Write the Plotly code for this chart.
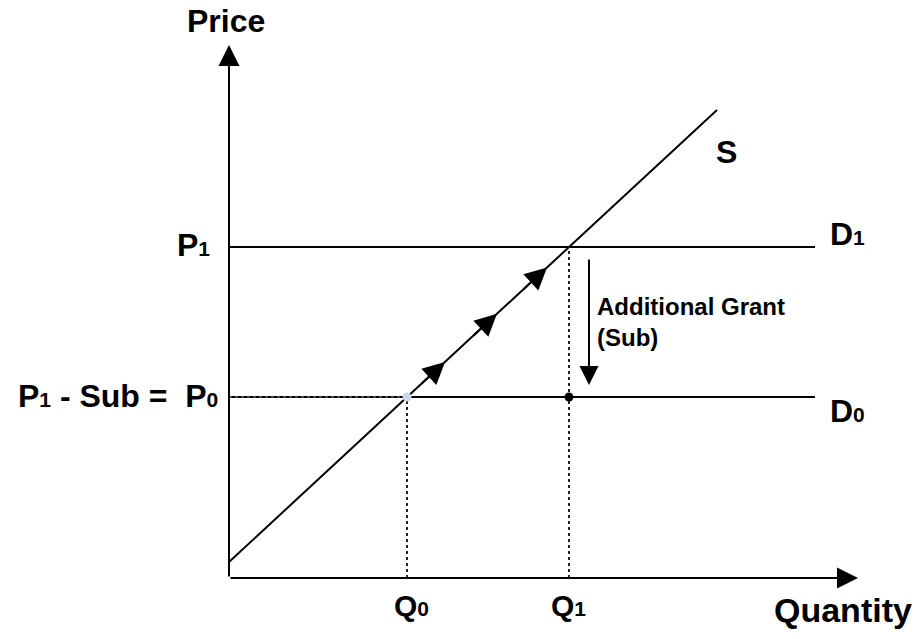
import plotly.graph_objects as go

# ---- data (chart units) ----
supply_q = [0, 488]
supply_p = [16, 468]
P0 = 181
P1 = 331
Q0 = 178
Q1 = 340
D_END = 586
X_MAX = 629
Y_MAX = 533
GRANT_X = 360
flow_q = [216, 268, 318]  # arrow tips along supply

FONT = "Arial, Liberation Sans, sans-serif"


def s_price(q):
    return supply_p[0] + (supply_p[1] - supply_p[0]) / (supply_q[1] - supply_q[0]) * (q - supply_q[0])


fig = go.Figure()

# Supply
fig.add_trace(go.Scatter(x=supply_q, y=supply_p, mode="lines",
                         line=dict(color="black", width=2), hoverinfo="skip"))
# Demand lines
for p in (P1, P0):
    fig.add_trace(go.Scatter(x=[0, D_END], y=[p, p], mode="lines",
                             line=dict(color="black", width=2), hoverinfo="skip"))
# Dotted guides
fig.add_trace(go.Scatter(x=[0, Q0], y=[P0, P0], mode="lines",
                         line=dict(color="#444", width=2, dash="dot"), hoverinfo="skip"))
fig.add_trace(go.Scatter(x=[Q0, Q0], y=[0, P0], mode="lines",
                         line=dict(color="#222", width=2, dash="dot"), hoverinfo="skip"))
fig.add_trace(go.Scatter(x=[Q1, Q1], y=[0, P1], mode="lines",
                         line=dict(color="#222", width=2, dash="dot"), hoverinfo="skip"))
# Points
fig.add_trace(go.Scatter(x=[Q1], y=[P0], mode="markers",
                         marker=dict(color="black", size=9), hoverinfo="skip"))
fig.add_trace(go.Scatter(x=[Q0], y=[P0], mode="markers",
                         marker=dict(color="#c9d9ec", size=9), hoverinfo="skip"))

annos = []


def arrow(x0, y0, x1, y1, size=2.1):
    annos.append(dict(x=x1, y=y1, ax=x0, ay=y0, xref="x", yref="y", axref="x", ayref="y",
                      text="", showarrow=True, arrowhead=2, arrowsize=size, arrowwidth=2,
                      arrowcolor="black", standoff=0, startstandoff=0))


# axes
arrow(0, 0, 0, Y_MAX)
arrow(0, 0, X_MAX, 0)
# flow arrows on supply
for q in flow_q:
    arrow(q - 25, s_price(q - 25), q, s_price(q), size=2.2)
# grant arrow
arrow(GRANT_X, P1 - 11, GRANT_X, P0 + 12, size=1.9)


def txt(x, y, t, size=32, xa="center", ya="middle", align="center"):
    annos.append(dict(x=x, y=y, xref="x", yref="y", text=t, showarrow=False,
                      xanchor=xa, yanchor=ya, align=align,
                      font=dict(family=FONT, size=size, color="black")))


def lab(main, digit, dsize=21):
    return f"<b>{main}<span style='font-size:{dsize}px'>{digit}</span></b>"


txt(-3, 557, "<b>Price</b>", 32)
txt(614, -32, "<b>Quantity</b>", 34)
txt(-17, P1 + 2, lab("P", "1"), 32, xa="right")
txt(-9, P0 + 1, lab("P", "1") + "<b> - Sub =&nbsp; </b>" + lab("P", "0"), 32, xa="right")
txt(599, P1 + 13, lab("D", "1"), 32, xa="left")
txt(599, P0 - 14, lab("D", "0"), 32, xa="left")
txt(485, 426, "<b>S</b>", 32, xa="left")
txt(182, -27, lab("Q", "0"), 30)
txt(339, -27, lab("Q", "1"), 30)
txt(366, 256, "<b>Additional Grant<br>(Sub)</b>", 24, xa="left", align="left")

fig.update_layout(
    width=918, height=639,
    margin=dict(l=0, r=0, t=0, b=0),
    paper_bgcolor="white", plot_bgcolor="white",
    showlegend=False,
    hovermode=False,
    xaxis=dict(range=[-229, 689], visible=False, fixedrange=True),
    yaxis=dict(range=[-61, 578], visible=False, fixedrange=True),
    annotations=annos,
)

fig.write_html("out.html",
               config={"displayModeBar": False, "staticPlot": True},
               post_script="document.body.style.margin='0';document.body.style.overflow='hidden';")
